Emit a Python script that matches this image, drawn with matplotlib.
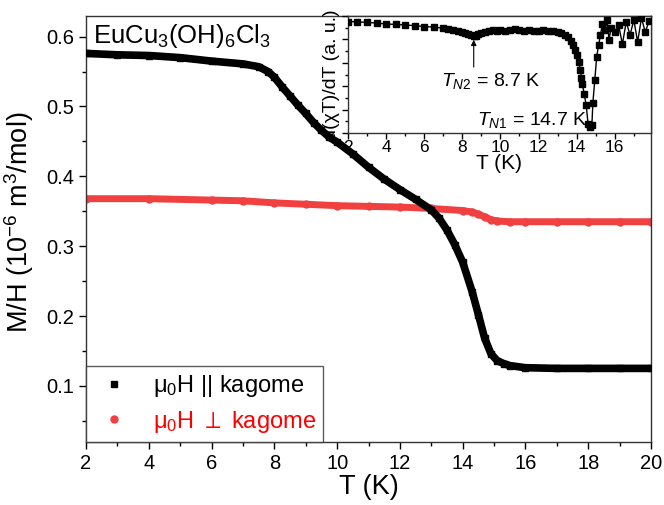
import matplotlib
matplotlib.use("Agg")
import matplotlib.pyplot as plt
from matplotlib.ticker import MultipleLocator, NullFormatter

plt.rcParams['font.family'] = ['Liberation Sans', 'DejaVu Sans']
plt.rcParams['mathtext.fontset'] = 'custom'
plt.rcParams['mathtext.rm'] = 'Liberation Sans'
plt.rcParams['mathtext.it'] = 'Liberation Sans:italic'
plt.rcParams['mathtext.bf'] = 'Liberation Sans:bold'
plt.rcParams['mathtext.fallback'] = 'stixsans'

# ---- main data: M/H vs T ----
T_par = [2.0, 3.0, 4.0, 5.0, 6.0, 7.0, 7.5, 7.8, 8.0, 8.25, 8.5, 8.75, 9.0, 9.25,
         9.5, 9.75, 10.0, 10.5, 11.0, 11.5, 12.0, 12.5, 13.0, 13.25, 13.5, 13.75,
         14.0, 14.3, 14.5, 14.7, 14.9, 15.1, 15.3, 15.5, 16.0, 17.0, 18.0, 19.0, 20.0]
MH_par = [0.576, 0.574, 0.573, 0.570, 0.565, 0.561, 0.557, 0.550, 0.542, 0.528,
          0.515, 0.502, 0.490, 0.477, 0.466, 0.456, 0.449, 0.432, 0.413, 0.396,
          0.381, 0.367, 0.352, 0.340, 0.323, 0.302, 0.277, 0.235, 0.202, 0.168,
          0.146, 0.136, 0.132, 0.129, 0.126, 0.125, 0.125, 0.125, 0.125]

T_perp = [2.0, 4.0, 6.0, 7.0, 8.0, 9.0, 10.0, 11.0, 12.0, 13.0, 14.0, 14.3, 14.5,
          14.7, 14.9, 15.1, 15.5, 16.0, 17.0, 18.0, 19.0, 20.0]
MH_perp = [0.368, 0.368, 0.366, 0.365, 0.362, 0.360, 0.358, 0.357, 0.356, 0.354,
           0.351, 0.349, 0.346, 0.342, 0.338, 0.336, 0.335, 0.335, 0.335, 0.335,
           0.335, 0.335]

# ---- inset data: d(chi T)/dT (a.u.) ----
T_ins = [2.0, 2.5, 3.0, 3.5, 4.0, 4.5, 5.0, 5.5, 6.0, 6.5, 7.0, 7.25, 7.5, 7.75,
         8.0, 8.15, 8.3, 8.45, 8.6, 8.7, 8.8, 9.0, 9.2, 9.4, 9.6, 9.8, 10.0, 10.25,
         10.5, 10.75, 11.0, 11.25, 11.5, 11.75, 12.0, 12.25, 12.5, 12.75, 13.0,
         13.2, 13.4, 13.55, 13.7, 13.8, 13.9, 14.0, 14.1, 14.2, 14.25, 14.3, 14.4,
         14.5, 14.6, 14.7, 14.8, 14.85, 14.95, 15.05, 15.15, 15.25, 15.35, 15.5,
         15.6, 15.7, 15.8, 16.0, 16.2, 16.4, 16.6, 16.8, 17.0, 17.2, 17.4, 17.6, 17.8]
D_ins = [0.953, 0.950, 0.945, 0.940, 0.932, 0.928, 0.923, 0.918, 0.910, 0.905,
         0.896, 0.890, 0.882, 0.875, 0.866, 0.858, 0.850, 0.840, 0.830, 0.832,
         0.846, 0.858, 0.866, 0.872, 0.878, 0.875, 0.882, 0.872, 0.880, 0.886,
         0.878, 0.870, 0.882, 0.874, 0.876, 0.880, 0.874, 0.872, 0.866, 0.855,
         0.840, 0.818, 0.786, 0.750, 0.710, 0.670, 0.610, 0.540, 0.470, 0.420,
         0.330, 0.239, 0.077, 0.050, 0.068, 0.256, 0.450, 0.650, 0.752, 0.838,
         0.930, 0.880, 0.966, 0.795, 0.897, 0.863, 0.923, 0.760, 0.949, 0.838,
         0.966, 0.778, 0.983, 0.863, 0.957]

label_par = r'μ$_0$H || kagome'
label_perp = r'μ$_0$H $\perp$ kagome'
black = '#000000'
red = '#F04040'

fig = plt.figure(figsize=(6.64, 5.05), dpi=100)
ax = fig.add_axes([0.1295, 0.1253, 0.851, 0.8436])

ax.plot(T_perp, MH_perp, color=red, lw=5.0, solid_capstyle='butt', zorder=2)
ax.plot(T_par, MH_par, color=black, lw=5.5, solid_capstyle='butt', zorder=3)
ax.plot(T_par, MH_par, ls='none', marker='s', ms=5, color=black, label=label_par, zorder=3)
ax.plot(T_perp, MH_perp, ls='none', marker='o', ms=5, color=red, label=label_perp, zorder=2)

ax.set_xlim(2, 20)
ax.set_ylim(0.02, 0.63)
ax.xaxis.set_major_locator(MultipleLocator(2))
ax.xaxis.set_minor_locator(MultipleLocator(1))
ax.yaxis.set_major_locator(MultipleLocator(0.1))
ax.yaxis.set_minor_locator(MultipleLocator(0.05))
ax.tick_params(which='both', direction='out', top=False, right=False, labelsize=14.5)
ax.tick_params(which='major', length=5, width=1)
ax.tick_params(which='minor', length=3, width=1)
for s in ax.spines.values():
    s.set_linewidth(1.0)
    s.set_color('#333333')
ax.set_xlabel('T (K)', fontsize=19.5, labelpad=1)
ax.set_ylabel('M/H (10$^{-6}$ m$^3$/mol)', fontsize=19.5)
ax.yaxis.set_label_coords(-0.088, 0.515)

ax.text(0.012, 0.985, 'EuCu$_3$(OH)$_6$Cl$_3$', transform=ax.transAxes,
        fontsize=18.5, ha='left', va='top')

leg = ax.legend(loc='lower left', fontsize=17, frameon=True, fancybox=False,
                borderaxespad=0, handletextpad=0.75, handlelength=1.8,
                borderpad=0.3, labelspacing=0.4, markerscale=1.0)
leg.get_frame().set_edgecolor('#333333')
leg.get_frame().set_linewidth(1.0)
for txt, col in zip(leg.get_texts(), ['#000000', '#FF0000']):
    txt.set_color(col)

# ---- inset ----
axi = fig.add_axes([0.524, 0.7366, 0.4564, 0.2317])
axi.plot(T_ins, D_ins, color=black, lw=1.0, marker='s', ms=4, zorder=3)
axi.set_xlim(2, 17.9)
axi.set_ylim(0, 1)
axi.xaxis.set_major_locator(MultipleLocator(2))
axi.xaxis.set_minor_locator(MultipleLocator(1))
axi.yaxis.set_major_locator(MultipleLocator(0.2))
axi.yaxis.set_minor_locator(MultipleLocator(0.1))
axi.yaxis.set_major_formatter(NullFormatter())
axi.tick_params(which='both', direction='out', top=False, right=False, labelsize=12.5, pad=1)
axi.tick_params(which='major', length=4, width=1)
axi.tick_params(which='minor', length=2, width=1)
for s in axi.spines.values():
    s.set_linewidth(1.0)
    s.set_color('#333333')
axi.set_xlabel('T (K)', fontsize=15, labelpad=-1)
axi.set_ylabel('d(χT)/dT (a. u.)', fontsize=14, labelpad=1)

axi.annotate('', xy=(8.6, 0.82), xytext=(8.6, 0.54),
             arrowprops=dict(arrowstyle='-|>', color='black', lw=0.8,
                             mutation_scale=8))
axi.text(6.9, 0.40, '$T_{N2}$ = 8.7 K', fontsize=14, ha='left', va='baseline')
axi.text(8.75, 0.07, '$T_{N1}$ = 14.7 K', fontsize=14, ha='left', va='baseline')

fig.savefig('out.png', dpi=100)
